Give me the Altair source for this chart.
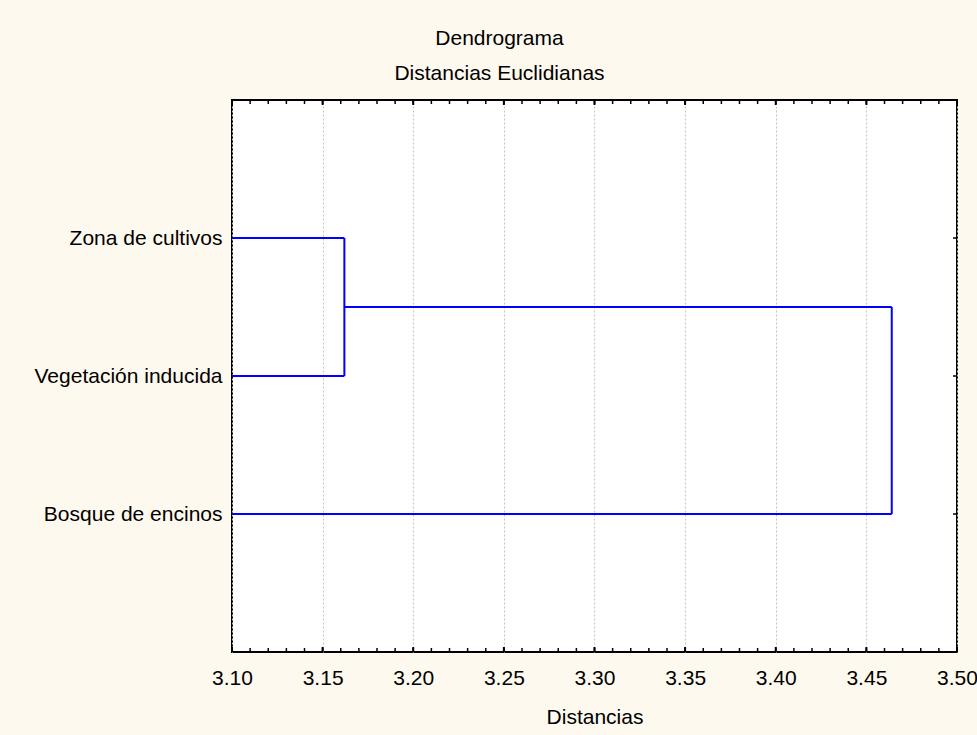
import json
import altair as alt
import pandas as pd

# ---- data ----
leaves = ["Zona de cultivos", "Vegetación inducida", "Bosque de encinos"]
leaf_pos = [1, 2, 3]
merge_dist = [3.162, 3.464]          # linkage distances of the two merges
axis_min, axis_max = 3.10, 3.50
major_ticks = [3.10, 3.15, 3.20, 3.25, 3.30, 3.35, 3.40, 3.45, 3.50]
minor_ticks = [round(3.10 + 0.01 * i, 2) for i in range(41)]

# ---- build dendrogram segments ----
d1, d2 = merge_dist
c1 = (leaf_pos[0] + leaf_pos[1]) / 2
segs = pd.DataFrame([
    dict(x=axis_min, x2=d1, y=leaf_pos[0], y2=leaf_pos[0]),
    dict(x=axis_min, x2=d1, y=leaf_pos[1], y2=leaf_pos[1]),
    dict(x=d1, x2=d1, y=leaf_pos[0], y2=leaf_pos[1]),
    dict(x=d1, x2=d2, y=c1, y2=c1),
    dict(x=axis_min, x2=d2, y=leaf_pos[2], y2=leaf_pos[2]),
    dict(x=d2, x2=d2, y=c1, y2=leaf_pos[2]),
])

W, H = 725, 552
FONT = "Liberation Sans"
FS = 21
xscale = alt.Scale(domain=[axis_min, axis_max], nice=False, zero=False)
yscale = alt.Scale(domain=[0, 4], reverse=True, nice=False, zero=False)

label_expr = json.dumps(leaves, ensure_ascii=False) + "[datum.value - 1]"

x_axis = alt.Axis(
    values=major_ticks, format=".2f", grid=True, gridDash=[2, 2],
    gridColor="#C4C4C4", gridWidth=1, ticks=False, domain=False,
    labelPadding=15, labelFontSize=FS, labelFont=FONT, labelColor="#000000",
    labelOverlap=False, labelBound=False, labelFlush=False,
    title="Distancias", titleFont=FONT, titleFontSize=FS,
    titleFontWeight="normal", titleColor="#000000", titlePadding=18)
y_axis = alt.Axis(
    values=leaf_pos, labelExpr=label_expr, ticks=False, grid=False,
    domain=False, labelPadding=10, labelFontSize=FS, labelFont=FONT,
    labelColor="#000000", labelLimit=400, title=None)

lines = alt.Chart(segs).mark_rule(color="#0000FF", strokeWidth=2).encode(
    x=alt.X("x:Q", scale=xscale, axis=x_axis),
    x2="x2:Q",
    y=alt.Y("y:Q", scale=yscale, axis=y_axis),
    y2="y2:Q",
)

minor_df = pd.DataFrame({"x": minor_ticks})
major_df = pd.DataFrame({"x": major_ticks})
leaf_df = pd.DataFrame({"y": leaf_pos})

minor_top = alt.Chart(minor_df).mark_rule(color="black", strokeWidth=1.5).encode(
    x=alt.X("x:Q", scale=xscale, axis=x_axis), y=alt.value(0), y2=alt.value(4))
minor_bot = alt.Chart(minor_df).mark_rule(color="black", strokeWidth=1.5).encode(
    x=alt.X("x:Q", scale=xscale, axis=x_axis), y=alt.value(H), y2=alt.value(H - 4))
major_top = alt.Chart(major_df).mark_rule(color="black", strokeWidth=2).encode(
    x=alt.X("x:Q", scale=xscale, axis=x_axis), y=alt.value(0), y2=alt.value(5))
major_bot = alt.Chart(major_df).mark_rule(color="black", strokeWidth=2).encode(
    x=alt.X("x:Q", scale=xscale, axis=x_axis), y=alt.value(H), y2=alt.value(H - 5))
right_ticks = alt.Chart(leaf_df).mark_rule(color="black", strokeWidth=1.5).encode(
    y=alt.Y("y:Q", scale=yscale, axis=y_axis), x=alt.value(W), x2=alt.value(W - 4))

chart = alt.layer(
    lines, minor_top, minor_bot, major_top, major_bot, right_ticks
).properties(
    width=W, height=H,
    title=alt.TitleParams(
        text=["Dendrograma", "Distancias Euclidianas"], font=FONT, fontSize=FS,
        fontWeight="normal", color="#000000", anchor="middle", dx=-95,
        lineHeight=35, offset=15),
    autosize=alt.AutoSizeParams(type="none"),
    padding={"left": 232, "top": 100, "right": 20, "bottom": 83},
    background="#FEF9EE",
).configure_view(
    stroke="black", strokeWidth=2, fill="white"
)

chart.save("out.html", embed_options={"renderer": "svg", "actions": False})
